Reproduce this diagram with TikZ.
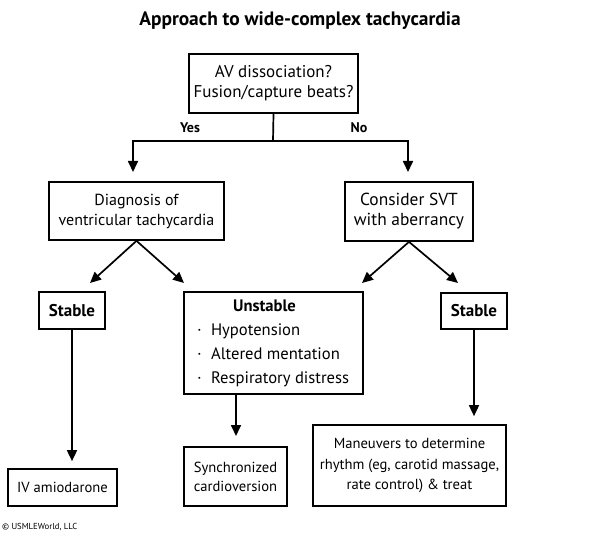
\documentclass[tikz,border=0pt]{standalone}
\usepackage{fontspec}
\setmainfont{PT Sans}
\usetikzlibrary{arrows.meta}
\newcommand{\bul}{\raisebox{3.2pt}{\fontsize{7}{7}\selectfont\textbullet}}
\begin{document}
\begin{tikzpicture}[x=1pt,y=-1pt,
  box/.style={draw,line width=1.7pt,align=center,inner sep=0pt,font=\fontsize{17}{20}\selectfont},
  small/.style={font=\fontsize{14.6}{20}\selectfont},
  conn/.style={line width=1.7pt},
  arr/.style={conn,-{Triangle[length=11pt,width=10pt]}},
  lab/.style={font=\bfseries\fontsize{14}{16}\selectfont}]
\useasboundingbox (0,0) rectangle (605,537);
\node[font=\bfseries\fontsize{19.4}{22}\selectfont] (title) at (300,21) {Approach to wide-complex tachycardia};
\node[box,minimum width=169,minimum height=59] (top) at (273.5,83.5) {AV dissociation?\\Fusion/capture beats?};
\node[box,minimum width=175,minimum height=58,font=\fontsize{16}{20}\selectfont] (vt) at (136.5,211) {Diagnosis of\\ventricular tachycardia};
\node[box,minimum width=128,minimum height=59,font=\fontsize{17.4}{20}\selectfont] (svt) at (409,211.5) {Consider SVT\\with aberrancy};
\node[box,minimum width=66,minimum height=37,font=\bfseries\fontsize{17}{20}\selectfont] (sl) at (72,310.5) {Stable};
\node[box,minimum width=179,minimum height=102] (un) at (273.5,343) {\fontsize{16.6}{24}\selectfont
  \begin{tabular}{@{}l@{\hspace{10pt}}l@{}}
  \multicolumn{2}{@{}c@{}}{\hspace{-18pt}\textbf{Unstable}}\\
  \bul & Hypotension\\
  \bul & Altered mentation\\
  \bul & Respiratory distress
  \end{tabular}};
\node[box,minimum width=66,minimum height=36,font=\bfseries\fontsize{17}{20}\selectfont] (sr) at (474,311) {Stable};
\node[box,small,minimum width=109,minimum height=37] (iv) at (62.5,487.5) {IV amiodarone};
\node[box,small,minimum width=103,minimum height=59,font=\fontsize{14.6}{19}\selectfont] (sync) at (235.5,476.5) {Synchronized\\cardioversion};
\node[box,small,minimum width=193,minimum height=81,font=\fontsize{14.6}{20.5}\selectfont] (man) at (409.5,465.5) {Maneuvers to determine\\rhythm (eg, carotid massage,\\rate control) \& treat};
\node[font=\fontsize{8.7}{10}\selectfont,anchor=west,inner sep=0pt] (copy) at (2,527) {© USMLEWorld, LLC};
% connectors
\coordinate (j) at (273,141);
\coordinate (jl) at (133,141);
\coordinate (jr) at (408,141);
\coordinate (tl) at (133,172);
\coordinate (tr) at (408,172);
\draw[conn] (top.south) -- (j);
\draw[arr] (j) -- (jl) -- (tl);
\draw[arr] (j) -- (jr) -- (tr);
\node[lab] (yes) at (190,128) {Yes};
\node[lab] (no) at (359,128) {No};
\coordinate (a1) at (90,283);
\coordinate (a2) at (184,283);
\coordinate (a3) at (362,283);
\coordinate (a4) at (458,283);
\draw[arr] (vt.south) -- (a1);
\draw[arr] (vt.south) -- (a2);
\draw[arr] (svt.south) -- (a3);
\draw[arr] (svt.south) -- (a4);
\draw[arr,shorten >=7pt] (sl.south) -- (sl.south |- iv.north);
\draw[arr] (un.south -| 236,0) -- (236,436);
\draw[arr,shorten >=8pt] (sr.south) -- (sr.south |- man.north);
\end{tikzpicture}
\end{document}
